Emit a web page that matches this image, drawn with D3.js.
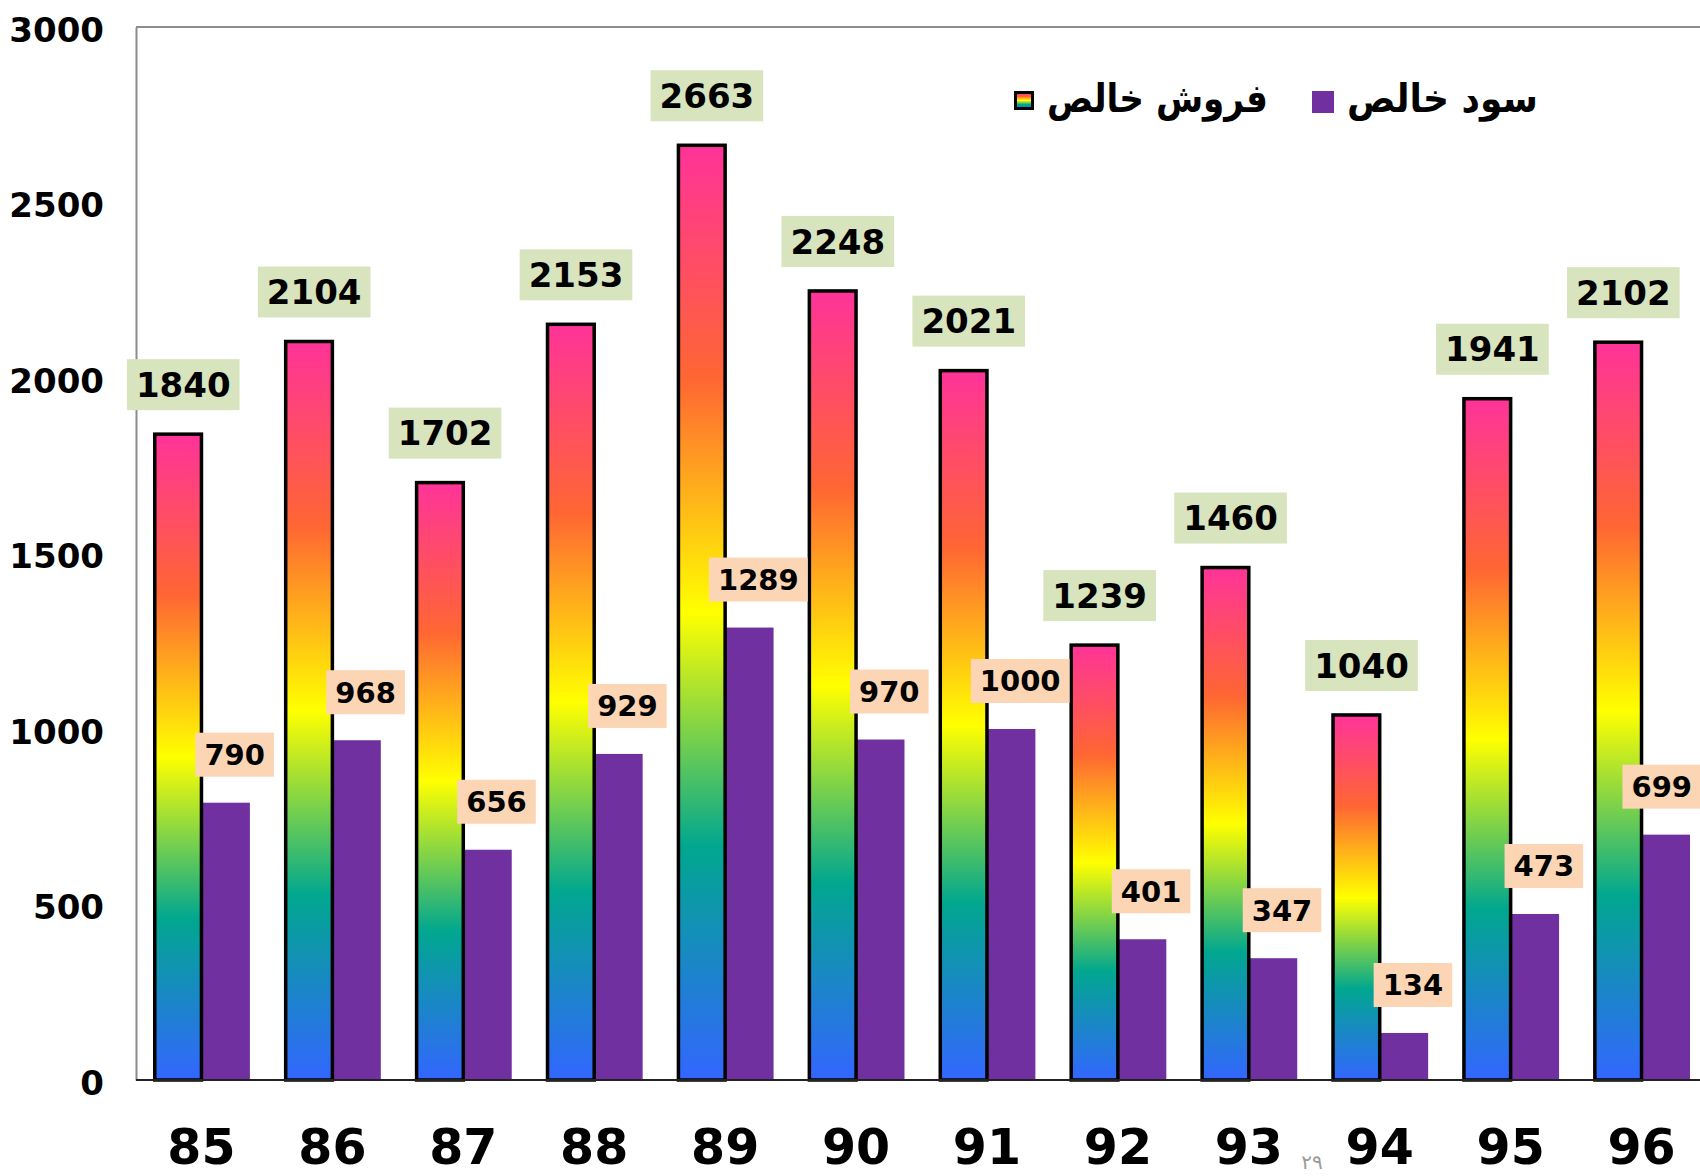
<!DOCTYPE html>
<html>
<head>
<meta charset="utf-8">
<script src="https://cdn.jsdelivr.net/npm/d3@7"></script>
<style>
  html, body { margin: 0; padding: 0; background: #fff; }
  svg { display: block; }
</style>
</head>
<body>
<svg id="chart" width="1700" height="1176"></svg>
<script>
// ---- data ----
const years = ["85", "86", "87", "88", "89", "90", "91", "92", "93", "94", "95", "96"];
const netSales = [1840, 2104, 1702, 2153, 2663, 2248, 2021, 1239, 1460, 1040, 1941, 2102];
const netProfit = [790, 968, 656, 929, 1289, 970, 1000, 401, 347, 134, 473, 699];
const yTicks = [0, 500, 1000, 1500, 2000, 2500, 3000];
const seriesNames = ["فروش خالص", "سود خالص"];
const slideNumber = "۲۹";

// ---- layout ----
const W = 1700, H = 1176;
const plot = { left: 136, right: 1707, top: 27, bottom: 1080 };
const FONT = "'DejaVu Sans', Verdana, sans-serif";
const purple = "#7030A0";

const svg = d3.select("#chart");
svg.append("rect").attr("width", W).attr("height", H).attr("fill", "#fff");

const defs = svg.append("defs");
const grad = defs.append("linearGradient").attr("id", "rainbow")
  .attr("x1", 0).attr("y1", 0).attr("x2", 0).attr("y2", 1);
[[0, "#FF3399"], [0.25, "#FF6633"], [0.5, "#FFFF00"], [0.75, "#01A78F"], [1, "#3366FF"]]
  .forEach(([o, c]) => grad.append("stop").attr("offset", o).attr("stop-color", c));

const x = d3.scaleBand().domain(years).range([plot.left, plot.right])
  .paddingInner(0.26).paddingOuter(0.13);
const xs = d3.scaleBand().domain(["sales", "profit"]).range([0, x.bandwidth()]);
const y = d3.scaleLinear().domain([0, 3000]).range([plot.bottom, plot.top]);

// top border
svg.append("line").attr("x1", plot.left).attr("x2", W).attr("y1", plot.top).attr("y2", plot.top)
  .attr("stroke", "#8c8c8c").attr("stroke-width", 2);

// y axis
const yAxis = svg.append("g").attr("transform", `translate(${plot.left},0)`)
  .call(d3.axisLeft(y).tickValues(yTicks).tickSize(0).tickPadding(32).tickFormat(d3.format("d")));
yAxis.select(".domain").attr("stroke", "#8c8c8c").attr("stroke-width", 2);
yAxis.selectAll("text").attr("font-family", FONT).attr("font-weight", "bold")
  .attr("font-size", 34).attr("fill", "#000").attr("dy", "0.42em");

// bars
const groups = svg.append("g").selectAll("g").data(years).join("g")
  .attr("transform", d => `translate(${x(d)},0)`);

groups.append("rect")
  .attr("x", xs("profit")).attr("width", xs.bandwidth())
  .attr("y", (d, i) => y(netProfit[i])).attr("height", (d, i) => y(0) - y(netProfit[i]))
  .attr("fill", purple);

groups.append("rect")
  .attr("x", xs("sales") + 1.75).attr("width", xs.bandwidth() - 1.75)
  .attr("y", (d, i) => y(netSales[i])).attr("height", (d, i) => y(0) - y(netSales[i]))
  .attr("fill", "url(#rainbow)").attr("stroke", "#000").attr("stroke-width", 3.5);

// baseline
svg.append("line").attr("x1", plot.left).attr("x2", W).attr("y1", plot.bottom).attr("y2", plot.bottom)
  .attr("stroke", "#222").attr("stroke-width", 2);

// x axis labels
const xAxis = svg.append("g").attr("transform", `translate(0,${plot.bottom})`)
  .call(d3.axisBottom(x).tickSize(0).tickPadding(49));
xAxis.select(".domain").remove();
xAxis.selectAll("text").attr("font-family", FONT).attr("font-weight", "bold")
  .attr("font-size", 49).attr("fill", "#000").attr("dy", "0.71em");

// value labels
function label(g, cx, barTop, value, opts) {
  const t = g.append("text").attr("font-family", FONT).attr("font-weight", "bold")
    .attr("font-size", opts.fs).attr("text-anchor", "middle").attr("fill", "#000")
    .text(value);
  const tw = t.node().getComputedTextLength();
  const w = tw + opts.padX * 2;
  const tx = Math.min(cx, W - tw / 2 - 8);
  const bottom = barTop - opts.gap;
  const top = bottom - opts.h;
  g.insert("rect", () => t.node())
    .attr("x", tx - w / 2).attr("y", top).attr("width", w).attr("height", opts.h)
    .attr("fill", opts.fill);
  t.attr("x", tx).attr("y", top + opts.h / 2 + opts.fs * 0.36);
}

const labelsG = svg.append("g");
years.forEach((yr, i) => {
  const g = labelsG.append("g");
  label(g, x(yr) + xs("sales") + xs.bandwidth() / 2 + 6, y(netSales[i]), netSales[i],
    { fs: 34, padX: 9, h: 51, gap: 24, fill: "#D7E4BD" });
});
years.forEach((yr, i) => {
  const g = labelsG.append("g");
  label(g, x(yr) + xs("profit") + xs.bandwidth() / 2 + 9, y(netProfit[i]), netProfit[i],
    { fs: 29, padX: 9, h: 44, gap: 26, fill: "#FCD5B5" });
});

// legend
const legend = svg.append("g");
legend.append("rect").attr("x", 1015.5).attr("y", 92.5).attr("width", 17).attr("height", 16)
  .attr("fill", "url(#rainbow)").attr("stroke", "#000").attr("stroke-width", 3);
legend.append("text").attr("x", 1047).attr("y", 112)
  .attr("font-family", FONT).attr("font-weight", "bold").attr("font-size", 39)
  .attr("textLength", 221).attr("lengthAdjust", "spacingAndGlyphs")
  .attr("text-anchor", "start").attr("fill", "#000").text(seriesNames[0]);
legend.append("rect").attr("x", 1312).attr("y", 91).attr("width", 22).attr("height", 22)
  .attr("fill", purple);
legend.append("text").attr("x", 1347).attr("y", 112)
  .attr("font-family", FONT).attr("font-weight", "bold").attr("font-size", 39)
  .attr("textLength", 191).attr("lengthAdjust", "spacingAndGlyphs")
  .attr("text-anchor", "start").attr("fill", "#000").text(seriesNames[1]);

// slide number
svg.append("text").attr("x", 1312).attr("y", 1169).attr("text-anchor", "middle")
  .attr("font-family", FONT).attr("font-size", 20).attr("fill", "#9a9a9a").text(slideNumber);
</script>
</body>
</html>
